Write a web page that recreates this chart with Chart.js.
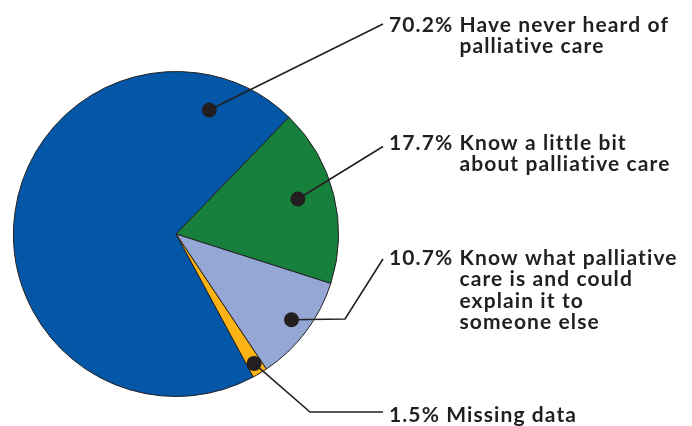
<!DOCTYPE html>
<html>
<head>
  <meta charset="utf-8">
  <title>Palliative care awareness</title>
  <script src="https://cdn.jsdelivr.net/npm/chart.js"></script>
  <style>
    body { margin: 0; padding: 0; background: #fff; }
    #wrap { width: 692px; height: 426px; }
  </style>
</head>
<body>
  <div id="wrap"><canvas id="pie" width="692" height="426"></canvas></div>
  <script>
    // data
    var percents = [70.2, 17.7, 10.7, 1.5];
    var labelLines = [
      ['Have never heard of', 'palliative care'],
      ['Know a little bit', 'about palliative care'],
      ['Know what palliative', 'care is and could', 'explain it to', 'someone else'],
      ['Missing data']
    ];
    var colours = ['#0357a6', '#17803d', '#95a8d5', '#fbb316'];

    // where the dots sit inside each slice (fraction along arc, fraction of radius)
    var dotPos = [[0.885, 0.79], [0.47, 0.78], [0.49, 0.885], [0.5, 0.93]];
    // leader line bends / ends, and text baseline of first line
    var leaders = [
      [[383, 24]],
      [[383, 146.5]],
      [[345, 319], [383, 259]],
      [[310, 412], [383, 412]]
    ];
    var textX = 389;
    var baselines = [32, 150, 265, 422];
    var lineH = 21.4;
    var ink = '#231f20';
    var fontCss = 'bold 21px Lato, "Open Sans", sans-serif';

    var calloutPlugin = {
      id: 'callouts',
      afterDraw: function (chart) {
        var ctx = chart.ctx;
        var arcs = chart.getDatasetMeta(0).data;
        ctx.save();
        ctx.font = fontCss;
        ctx.letterSpacing = '1.1px';
        var indent = ctx.measureText('00.0% ').width;
        arcs.forEach(function (arc, i) {
          var p = arc.getProps(['x', 'y', 'startAngle', 'endAngle', 'outerRadius'], true);
          var a = p.startAngle + (p.endAngle - p.startAngle) * dotPos[i][0];
          var r = p.outerRadius * dotPos[i][1];
          var dx = p.x + Math.cos(a) * r;
          var dy = p.y + Math.sin(a) * r;

          // leader line
          ctx.strokeStyle = ink;
          ctx.lineWidth = 1.6;
          ctx.beginPath();
          ctx.moveTo(dx, dy);
          leaders[i].forEach(function (pt) { ctx.lineTo(pt[0], pt[1]); });
          ctx.stroke();

          // dot
          ctx.fillStyle = ink;
          ctx.beginPath();
          ctx.arc(dx, dy, 7.5, 0, Math.PI * 2);
          ctx.fill();

          // text
          var pct = percents[i].toFixed(1) + '% ';
          ctx.textBaseline = 'alphabetic';
          ctx.textAlign = 'left';
          ctx.fillText(pct, textX, baselines[i]);
          var firstX = textX + ctx.measureText(pct).width;
          labelLines[i].forEach(function (line, k) {
            var x = k === 0 ? firstX : textX + indent;
            ctx.fillText(line, x, baselines[i] + k * lineH);
          });
        });
        ctx.restore();
      }
    };

    var chart = new Chart(document.getElementById('pie').getContext('2d'), {
      type: 'pie',
      data: {
        labels: labelLines.map(function (l) { return l.join(' '); }),
        datasets: [{
          data: percents,
          backgroundColor: colours,
          borderColor: ink,
          borderWidth: 1
        }]
      },
      options: {
        responsive: false,
        animation: false,
        rotation: -208.4,
        layout: { padding: { left: 13, top: 71, right: 353, bottom: 29 } },
        plugins: {
          legend: { display: false },
          tooltip: { enabled: false }
        }
      },
      plugins: [calloutPlugin]
    });
  </script>
</body>
</html>
